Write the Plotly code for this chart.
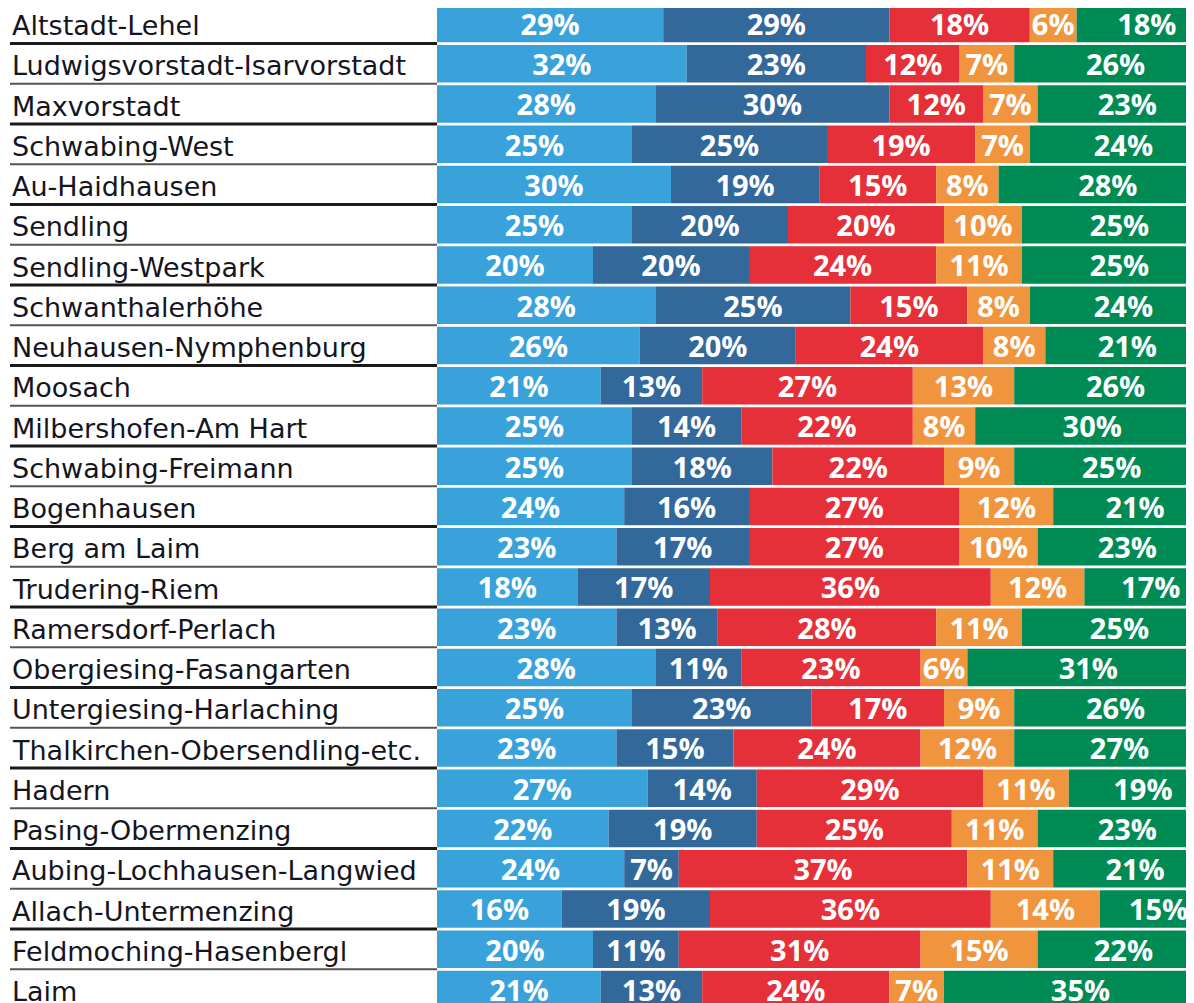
import plotly.graph_objects as go

districts = [
    "Altstadt-Lehel", "Ludwigsvorstadt-Isarvorstadt", "Maxvorstadt", "Schwabing-West",
    "Au-Haidhausen", "Sendling", "Sendling-Westpark", "Schwanthalerhöhe",
    "Neuhausen-Nymphenburg", "Moosach", "Milbershofen-Am Hart", "Schwabing-Freimann",
    "Bogenhausen", "Berg am Laim", "Trudering-Riem", "Ramersdorf-Perlach",
    "Obergiesing-Fasangarten", "Untergiesing-Harlaching", "Thalkirchen-Obersendling-etc.",
    "Hadern", "Pasing-Obermenzing", "Aubing-Lochhausen-Langwied", "Allach-Untermenzing",
    "Feldmoching-Hasenbergl", "Laim",
]

s1 = [29, 32, 28, 25, 30, 25, 20, 28, 26, 21, 25, 25, 24, 23, 18, 23, 28, 25, 23, 27, 22, 24, 16, 20, 21]
s2 = [29, 23, 30, 25, 19, 20, 20, 25, 20, 13, 14, 18, 16, 17, 17, 13, 11, 23, 15, 14, 19, 7, 19, 11, 13]
s3 = [18, 12, 12, 19, 15, 20, 24, 15, 24, 27, 22, 22, 27, 27, 36, 28, 23, 17, 24, 29, 25, 37, 36, 31, 24]
s4 = [6, 7, 7, 7, 8, 10, 11, 8, 8, 13, 8, 9, 12, 10, 12, 11, 6, 9, 12, 11, 11, 11, 14, 15, 7]
s5 = [18, 26, 23, 24, 28, 25, 25, 24, 21, 26, 30, 25, 21, 23, 17, 25, 31, 26, 27, 19, 23, 21, 15, 22, 35]

series = [s1, s2, s3, s4, s5]
colors = ["#3AA2DA", "#33689B", "#E5303A", "#F0953D", "#008B55"]

# page offset of the plot div (browser body margin)
OFF = 8
W, H = 1194 - OFF, 1003 - OFF
left_px = 437 - OFF
scale_px = 780.0          # pixels per 100 %
pitch = 40.25
row0 = 23.5 - OFF
text_drop = 4.0 / pitch   # visual centering of digits inside the bar

n = len(districts)
ypos = list(range(n))

fig = go.Figure()

base = [0] * n
for vals, col in zip(series, colors):
    fig.add_trace(go.Bar(
        y=ypos, x=vals, base=base[:], orientation="h",
        marker=dict(color=col, line=dict(width=0)),
        width=0.93, hoverinfo="skip", showlegend=False,
    ))
    mids = [b + v / 2 for b, v in zip(base, vals)]
    fig.add_trace(go.Scatter(
        x=mids, y=[y + text_drop for y in ypos], mode="text",
        text=[f"{v}%" for v in vals],
        textfont=dict(family="Open Sans", size=29, color="white", weight="bold"),
        textposition="middle center",
        hoverinfo="skip", showlegend=False, cliponaxis=True,
    ))
    base = [b + v for b, v in zip(base, vals)]

plot_w = W - left_px
x_max = plot_w / scale_px * 100
y_top = -row0 / pitch
y_bot = (H - row0) / pitch

shapes = []
for i in range(n - 1):
    thick = (i % 2 == 0)
    shapes.append(dict(
        type="line", xref="paper", yref="y",
        x0=(10 - OFF) / W, x1=left_px / W, y0=i + 0.5, y1=i + 0.5,
        line=dict(color="#1a1a1a" if thick else "#555555", width=3 if thick else 2),
    ))

annotations = []
for i, d in enumerate(districts):
    annotations.append(dict(
        x=(10 - OFF) / W, xref="paper", y=i, yref="y", text=d,
        showarrow=False, xanchor="left", yanchor="middle", yshift=-2,
        font=dict(family="DejaVu Sans", size=27, color="#15151f"),
    ))

fig.update_layout(
    width=W, height=H,
    margin=dict(l=0, r=0, t=0, b=0),
    paper_bgcolor="white", plot_bgcolor="white",
    barmode="overlay",
    xaxis=dict(domain=[left_px / W, 1], range=[0, x_max], visible=False, fixedrange=True),
    yaxis=dict(range=[y_bot, y_top], visible=False, fixedrange=True),
    shapes=shapes, annotations=annotations,
)

fig.write_html("out.html")
